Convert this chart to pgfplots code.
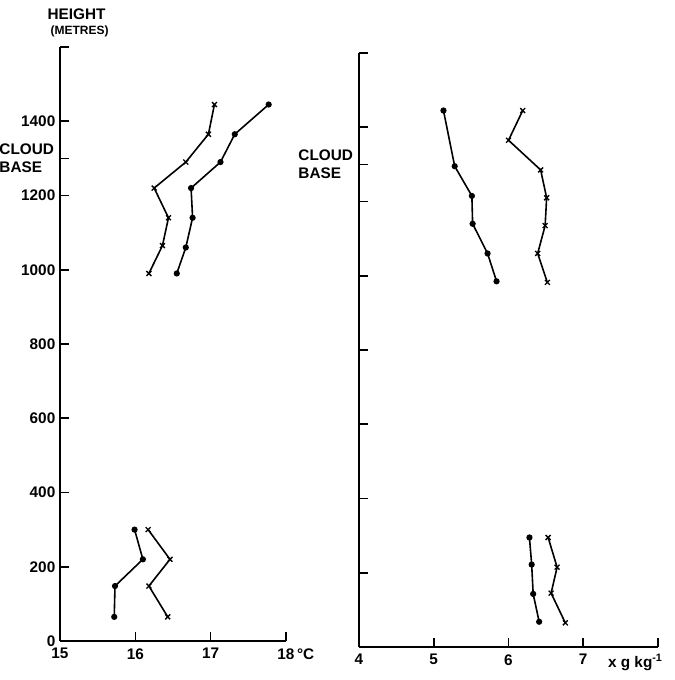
\documentclass[border=0pt]{standalone}
\usepackage{fontspec}
\setmainfont{Liberation Sans}
\usepackage{pgfplots}
\pgfplotsset{compat=1.18}
\pgfplotsset{
  myax/.style={
    scale only axis,
    axis x line=bottom, axis y line=left,
    axis line style={-, line width=1.5pt},
    every tick/.style={black, line width=1.2pt},
    major tick length=7pt,
    tick align=inside,
    clip=false,
    ymin=0, ymax=1600,
    height=445.5pt,
    ytick={0,200,400,600,800,1000,1200,1300,1400,1600},
    tick label style={font=\fontsize{11.5}{12}\selectfont\bfseries},
    x tick label style={yshift=-2pt},
    /pgf/number format/assume math mode=true,
    /pgf/number format/1000 sep={},
    scaled ticks=false,
  },
  cr/.style={black, line width=1.2pt, mark=x, mark size=2.6pt, mark options={line width=1pt}},
  dt/.style={black, line width=1.2pt, mark=*, mark size=1.7pt},
}
\begin{document}
\begin{tikzpicture}
\useasboundingbox (0,0) rectangle (505.5pt,510pt);
% left panel: temperature
\begin{axis}[myax,
  at={(45pt,29.25pt)}, anchor=origin,
  width=169.5pt,
  xmin=15, xmax=18,
  xtick={15,16,17,18},
  xticklabels={15,16,17,{18\rlap{\,°C}}},
  yticklabels={0,200,400,600,800,1000,1200,{},1400,{}},
]
\addplot[cr] coordinates {(17.05,1445)(16.97,1365)(16.67,1290)(16.25,1220)(16.44,1140)(16.36,1065)(16.18,990)};
\addplot[dt] coordinates {(17.77,1445)(17.32,1365)(17.13,1290)(16.74,1220)(16.76,1140)(16.67,1060)(16.55,990)};
\addplot[dt] coordinates {(15.99,300)(16.10,220)(15.73,148)(15.72,65)};
\addplot[cr] coordinates {(16.17,300)(16.46,220)(16.18,148)(16.43,65)};
\node[anchor=east, align=left, font=\fontsize{11.5}{13}\selectfont\bfseries, xshift=-1pt] at (axis cs:15,1300) {CLOUD\\BASE};
\node[anchor=center, font=\fontsize{11.5}{12}\selectfont\bfseries] at (axis cs:15.22,1688) {HEIGHT};
\node[anchor=center, font=\fontsize{9}{9}\selectfont\bfseries] at (axis cs:15.26,1642) {(METRES)};
\end{axis}
% right panel: humidity mixing ratio
\begin{axis}[myax,
  at={(269.25pt,24.75pt)}, anchor=origin,
  width=224.25pt,
  xmin=4, xmax=8,
  xtick={4,5,6,7,8},
  xticklabels={4,5,6,7,{\makebox[0pt][c]{\hspace*{-34pt}x g kg\textsuperscript{-1}}}},
  yticklabels={},
]
\addplot[dt] coordinates {(5.13,1445)(5.28,1295)(5.51,1215)(5.52,1140)(5.72,1060)(5.84,985)};
\addplot[cr] coordinates {(6.19,1445)(6.00,1365)(6.43,1285)(6.51,1210)(6.49,1135)(6.39,1060)(6.52,982)};
\addplot[dt] coordinates {(6.28,295)(6.31,222)(6.33,143)(6.41,68)};
\addplot[cr] coordinates {(6.53,295)(6.65,215)(6.57,145)(6.76,65)};
\node[anchor=east, align=left, font=\fontsize{11.5}{13}\selectfont\bfseries, xshift=-1pt] at (axis cs:4,1300) {CLOUD\\BASE};
\end{axis}
\end{tikzpicture}
\end{document}
